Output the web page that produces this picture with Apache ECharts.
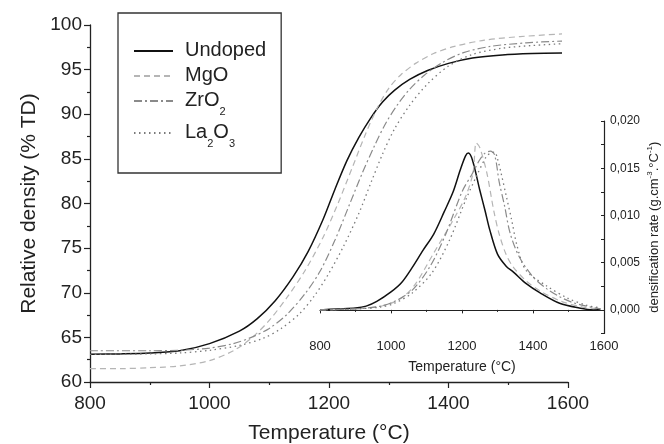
<!DOCTYPE html>
<html><head><meta charset="utf-8">
<script src="https://cdn.jsdelivr.net/npm/echarts@6/dist/echarts.min.js"></script>
<style>html,body{margin:0;padding:0;background:#fff}#c{width:664px;height:444px}</style>
</head><body><div id="c"></div>
<script>
// ---- data ----
const seriesNames = ['Undoped', 'MgO', 'ZrO2', 'La2O3'];

// main plot: relative density (% TD) vs temperature (°C)
const undopedT = [800, 850, 900, 950, 1000, 1050, 1080, 1110, 1140, 1165, 1190, 1210, 1230, 1250, 1270, 1290, 1310, 1335, 1365, 1400, 1440, 1490, 1540, 1590];
const undopedD = [63.1, 63.15, 63.25, 63.5, 64.3, 65.7, 67.1, 69.1, 71.8, 74.6, 78.2, 81.6, 84.8, 87.4, 89.6, 91.4, 92.7, 93.9, 94.9, 95.7, 96.3, 96.65, 96.8, 96.85];
const mgoT = [800, 850, 900, 950, 1000, 1040, 1070, 1100, 1130, 1160, 1190, 1215, 1240, 1260, 1280, 1300, 1320, 1345, 1375, 1410, 1460, 1520, 1590];
const mgoD = [61.5, 61.5, 61.6, 61.8, 62.4, 63.5, 64.9, 66.9, 69.5, 72.5, 76.2, 80.0, 84.2, 87.6, 90.6, 92.9, 94.4, 95.7, 96.8, 97.6, 98.3, 98.7, 99.0];
const zro2T = [800, 900, 950, 1000, 1040, 1070, 1100, 1130, 1160, 1185, 1210, 1235, 1255, 1275, 1295, 1315, 1335, 1360, 1390, 1425, 1470, 1530, 1590];
const zro2D = [63.5, 63.5, 63.55, 63.8, 64.3, 65.0, 66.0, 67.6, 69.9, 72.4, 75.9, 80.0, 83.3, 86.3, 89.0, 91.1, 92.8, 94.4, 95.8, 96.9, 97.6, 98.0, 98.2];
const la2o3T = [800, 900, 950, 1000, 1050, 1090, 1120, 1150, 1175, 1200, 1225, 1250, 1270, 1290, 1310, 1335, 1365, 1400, 1440, 1490, 1540, 1590];
const la2o3D = [63.1, 63.15, 63.25, 63.55, 64.1, 64.9, 66.0, 67.6, 69.6, 72.2, 75.3, 78.9, 82.3, 85.6, 88.4, 91.0, 93.4, 95.4, 96.7, 97.4, 97.7, 97.9];

// inset: densification rate (g.cm-3.°C-1) vs temperature (°C)
const undopedRateT = [800, 850, 900, 930, 960, 1000, 1030, 1060, 1090, 1120, 1150, 1175, 1195, 1210, 1218, 1230, 1250, 1265, 1278, 1300, 1325, 1345, 1380, 1420, 1475, 1530, 1570, 1590];
const undopedRate = [0, 0.0001, 0.0002, 0.0004, 0.0009, 0.0019, 0.0029, 0.0045, 0.0063, 0.0080, 0.0104, 0.0125, 0.0148, 0.0163, 0.0166, 0.0158, 0.0127, 0.0105, 0.0085, 0.0059, 0.0046, 0.0040, 0.0028, 0.0018, 0.0007, 0.0002, 0.0, 0.0001];
const mgoRateT = [800, 900, 960, 1000, 1035, 1070, 1120, 1175, 1210, 1231, 1240, 1250, 1270, 1290, 1305, 1325, 1345, 1380, 1420, 1480, 1540, 1590];
const mgoRate = [0, 0.0001, 0.0003, 0.0007, 0.0014, 0.0028, 0.0060, 0.0095, 0.0120, 0.0145, 0.0177, 0.0172, 0.0145, 0.0104, 0.0080, 0.0058, 0.0045, 0.0031, 0.0020, 0.0009, 0.0003, 0.0001];
const zro2RateT = [800, 900, 970, 1010, 1060, 1110, 1155, 1200, 1230, 1250, 1265, 1280, 1292, 1305, 1320, 1335, 1360, 1400, 1440, 1475, 1510, 1550, 1590];
const zro2Rate = [0, 0.0001, 0.0004, 0.0009, 0.0021, 0.0046, 0.0081, 0.0125, 0.0145, 0.0159, 0.0166, 0.0168, 0.0164, 0.0135, 0.0110, 0.0082, 0.0057, 0.0035, 0.0022, 0.0014, 0.0008, 0.0004, 0.0001];
const la2o3RateT = [800, 900, 970, 1010, 1060, 1115, 1165, 1210, 1240, 1268, 1280, 1292, 1300, 1310, 1325, 1340, 1355, 1380, 1440, 1500, 1550, 1590];
const la2o3Rate = [0, 0.0001, 0.0003, 0.0007, 0.0018, 0.0039, 0.0074, 0.0116, 0.0141, 0.0162, 0.0166, 0.0167, 0.0160, 0.0145, 0.0120, 0.0095, 0.0068, 0.0042, 0.0025, 0.0012, 0.0005, 0.0002];

// tick labels
const mainXTicks = [800, 1000, 1200, 1400, 1600];
const mainYTicks = [60, 65, 70, 75, 80, 85, 90, 95, 100];
const insetXTicks = [800, 1000, 1200, 1400, 1600];
const insetYTicks = ['0,000', '0,005', '0,010', '0,015', '0,020'];

// ---- chart ----
const FONT = '"Liberation Sans", Arial, sans-serif';
const INK = '#222';
const pairs = (t, v) => t.map((x, i) => [x, v[i]]);

const styles = {
  'Undoped': { color: '#111', width: 1.5, type: 'solid' },
  'MgO': { color: '#b5b5b5', width: 1.2, type: [6, 4] },
  'ZrO2': { color: '#8a8a8a', width: 1.2, type: [8, 3, 2, 3] },
  'La2O3': { color: '#7a7a7a', width: 1.3, type: [1.5, 3.5] }
};
const mainData = { 'Undoped': [undopedT, undopedD], 'MgO': [mgoT, mgoD], 'ZrO2': [zro2T, zro2D], 'La2O3': [la2o3T, la2o3D] };
const insetData = { 'Undoped': [undopedRateT, undopedRate], 'MgO': [mgoRateT, mgoRate], 'ZrO2': [zro2RateT, zro2Rate], 'La2O3': [la2o3RateT, la2o3Rate] };

function mkSeries(name, d, gi) {
  const s = styles[name];
  return {
    name, type: 'line', xAxisIndex: gi, yAxisIndex: gi, data: pairs(d[0], d[1]),
    showSymbol: false, symbol: 'none', smooth: 0.3,
    lineStyle: { color: s.color, width: s.width, type: s.type },
    itemStyle: { color: s.color }, z: gi === 0 ? 2 : 3, silent: true, animation: false
  };
}

const series = [];
seriesNames.forEach(n => series.push(mkSeries(n, mainData[n], 0)));
seriesNames.forEach(n => series.push(mkSeries(n, insetData[n], 1)));

const legendLabel = {
  'Undoped': '{f|Undoped}',
  'MgO': '{f|MgO}',
  'ZrO2': '{f|ZrO}{s|2}',
  'La2O3': '{f|La}{s|2}{n|O}{s|3}'
};

function axisBase(fs) {
  return {
    axisLine: { show: true, lineStyle: { color: INK, width: 1.3 } },
    splitLine: { show: false },
    minorSplitLine: { show: false },
    axisLabel: { color: INK, fontFamily: FONT, fontSize: fs },
    nameTextStyle: { color: INK, fontFamily: FONT }
  };
}

const chart = echarts.init(document.getElementById('c'), null, { renderer: 'canvas' });
chart.setOption({
  animation: false,
  backgroundColor: '#fff',
  grid: [
    { left: 90, top: 25, right: 96, bottom: 62, containLabel: false, outerBoundsMode: 'none' },
    { left: 320, top: 121, right: 60, bottom: 110.5, containLabel: false, outerBoundsMode: 'none' }
  ],
  legend: {
    data: seriesNames,
    orient: 'vertical', left: 118, top: 13,
    padding: [27, 15, 24, 15], itemGap: 5,
    itemWidth: 39, itemHeight: 14,
    borderColor: '#333', borderWidth: 1.3, borderRadius: 0,
    selectedMode: false,
    itemStyle: { opacity: 0, borderWidth: 0 },
    formatter: n => legendLabel[n],
    textStyle: {
      color: INK, fontFamily: FONT, fontSize: 20,
      rich: {
        f: { fontSize: 20, lineHeight: 22, fontFamily: FONT, color: INK, verticalAlign: 'top', padding: [0, 0, 0, 7] },
        n: { fontSize: 20, lineHeight: 22, fontFamily: FONT, color: INK, verticalAlign: 'top' },
        s: { fontSize: 11, lineHeight: 12, fontFamily: FONT, color: INK, verticalAlign: 'top', padding: [16, 0, 0, 0] }
      }
    }
  },
  xAxis: [
    Object.assign(axisBase(19), {
      type: 'value', gridIndex: 0, min: mainXTicks[0], max: mainXTicks[mainXTicks.length - 1],
      interval: mainXTicks[1] - mainXTicks[0],
      name: 'Temperature (°C)', nameLocation: 'middle', nameGap: 41,
      nameTextStyle: { color: INK, fontFamily: FONT, fontSize: 21 },
      axisTick: { show: true, inside: false, length: 6, lineStyle: { color: INK, width: 1.2 } },
      minorTick: { show: true, splitNumber: 2, length: 3, lineStyle: { color: INK, width: 1.2 } },
      axisLabel: { color: INK, fontFamily: FONT, fontSize: 19, margin: 12, showMinLabel: true, showMaxLabel: true, formatter: v => String(v) }
    }),
    Object.assign(axisBase(13), {
      type: 'value', gridIndex: 1, min: insetXTicks[0], max: insetXTicks[insetXTicks.length - 1],
      interval: insetXTicks[1] - insetXTicks[0],
      name: 'Temperature (°C)', nameLocation: 'middle', nameGap: 27,
      nameTextStyle: { color: INK, fontFamily: FONT, fontSize: 14 },
      axisLine: { show: true, lineStyle: { color: INK, width: 1.2 } },
      axisTick: { show: true, inside: false, length: 3.5, lineStyle: { color: INK, width: 1 } },
      minorTick: { show: true, splitNumber: 2, length: 2, lineStyle: { color: INK, width: 1 } },
      axisLabel: { color: INK, fontFamily: FONT, fontSize: 13, margin: 6, showMinLabel: true, showMaxLabel: true, formatter: v => String(v) }
    })
  ],
  yAxis: [
    Object.assign(axisBase(19), {
      type: 'value', gridIndex: 0, min: mainYTicks[0], max: mainYTicks[mainYTicks.length - 1],
      interval: mainYTicks[1] - mainYTicks[0],
      name: 'Relative density (% TD)', nameLocation: 'middle', nameGap: 43, nameRotate: 90,
      nameTextStyle: { color: INK, fontFamily: FONT, fontSize: 21 },
      axisTick: { show: true, inside: false, length: 6, lineStyle: { color: INK, width: 1.2 } },
      minorTick: { show: true, splitNumber: 2, length: 3, lineStyle: { color: INK, width: 1.2 } },
      axisLabel: { color: INK, fontFamily: FONT, fontSize: 19, margin: 8, showMinLabel: true, showMaxLabel: true, formatter: v => String(v) }
    }),
    Object.assign(axisBase(12), {
      type: 'value', gridIndex: 1, position: 'right', min: -0.0025, max: 0.02, interval: 0.0025,
      name: 'densification rate (g.cm{sup|-3}.°C{sup|-1})', nameLocation: 'middle', nameGap: 42, nameRotate: 90,
      nameTextStyle: {
        color: INK, fontFamily: FONT, fontSize: 13, lineHeight: 16,
        rich: { sup: { fontSize: 8, lineHeight: 8, verticalAlign: 'top', color: INK, fontFamily: FONT } }
      },
      axisLine: { show: true, lineStyle: { color: INK, width: 1.2 } },
      axisTick: { show: true, inside: true, length: 3, lineStyle: { color: INK, width: 1 } },
      axisLabel: {
        color: INK, fontFamily: FONT, fontSize: 12, margin: 6, showMinLabel: true, showMaxLabel: true,
        formatter: v => {
          const k = Math.round(v / 0.005);
          if (v < -1e-9 || Math.abs(v / 0.005 - k) > 1e-6) return '';
          return insetYTicks[k] || '';
        }
      }
    })
  ],
  series
});
</script>
</body></html>
